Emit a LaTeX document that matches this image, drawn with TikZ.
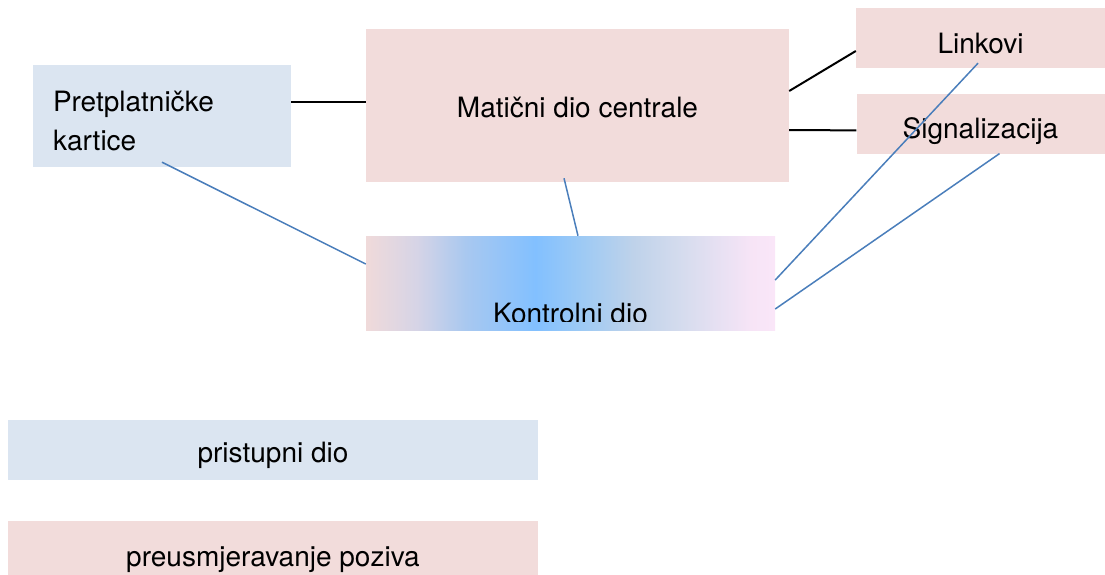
\documentclass[tikz,border=0pt]{standalone}
\usepackage{fontspec}
\setmainfont{TeX Gyre Heros}
\usetikzlibrary{positioning}

\definecolor{cardblue}{HTML}{DBE5F1}
\definecolor{corepink}{HTML}{F2DCDB}
\definecolor{wireblue}{HTML}{4A7EBB}
\definecolor{kshA}{HTML}{F0DADA}
\definecolor{kshB}{HTML}{D6D4E6}
\definecolor{kshC}{HTML}{A8C8F0}
\definecolor{kshD}{HTML}{82C0FF}
\definecolor{kshE}{HTML}{9ECAF4}
\definecolor{kshF}{HTML}{BED2EA}
\definecolor{kshG}{HTML}{D6DCEE}
\definecolor{kshH}{HTML}{F6E4F6}
\definecolor{kshI}{HTML}{FAE6F8}
\pgfdeclarehorizontalshading{kontrshade}{100bp}{color(0bp)=(kshA); color(25bp)=(kshA);
  color(31.2bp)=(kshB); color(37.3bp)=(kshC); color(45.7bp)=(kshD); color(51.5bp)=(kshE);
  color(57.6bp)=(kshF); color(63.8bp)=(kshG); color(71.9bp)=(kshH); color(75bp)=(kshI);
  color(100bp)=(kshI)}

\tikzset{
  blok/.style={rectangle, inner sep=0pt, text depth=0pt, font=\fontsize{28}{39}\selectfont},
  plavi/.style={blok, fill=cardblue},
  rozi/.style={blok, fill=corepink},
  spust/.style={text height=#1},
}

\begin{document}
\begin{tikzpicture}[x=1pt,y=-1pt]
	\useasboundingbox (0,0) rectangle (1105,574);
	\node (kart) [plavi, minimum width=258pt, minimum height=102pt, text width=218pt,
		inner xsep=20pt, align=left, text height=30pt, text depth=40pt] at (162,116)
		{Pretplatničke\\kartice};
	\node (matic) [rozi, minimum width=423pt, minimum height=153pt, spust=23pt] at (577.5,105.5)
		{Matični dio centrale};
	\node (link) [rozi, minimum width=249pt, minimum height=60pt, spust=30pt] at (980.5,38)
		{Linkovi};
	\node (sig) [rozi, minimum width=248pt, minimum height=60pt, spust=28pt, below=26pt of link]
		{Signalizacija};
	\node (kontr) [blok, shading=kontrshade, minimum width=409pt, minimum height=94pt] at (570.5,283) {};
	\begin{scope}
		\clip (kontr.north west) rectangle ([yshift=8.5pt]kontr.south east);
		\node (kontrlbl) [blok, anchor=base] at ([yshift=7pt]kontr.south) {Kontrolni dio};
	\end{scope}
	\node (prist) [plavi, minimum width=530pt, minimum height=60pt, spust=25pt] at (273,449.5)
		{pristupni dio};
	\node (preus) [rozi, minimum width=530pt, minimum height=54pt, spust=38pt, below=41pt of prist]
		{preusmjeravanje poziva};

	\path[draw=black, line width=2pt]
	([yshift=14pt]kart.east) edge ([yshift=3.5pt]matic.west)
	([yshift=14.5pt]matic.east) edge ([yshift=-13pt]link.west)
	([yshift=-24.5pt]matic.east) edge ([yshift=-6pt]sig.west);
	\path[draw=wireblue, line width=1.5pt]
	([yshift=5pt]kart.south) edge ([yshift=19pt]kontr.west)
	([xshift=-13.5pt,yshift=4pt]matic.south) edge ([xshift=7.5pt]kontr.north)
	([xshift=-2.5pt,yshift=5pt]link.south) edge ([yshift=3pt]kontr.east)
	([xshift=19pt,yshift=1pt]sig.south) edge ([yshift=-26pt]kontr.east);
\end{tikzpicture}
\end{document}
